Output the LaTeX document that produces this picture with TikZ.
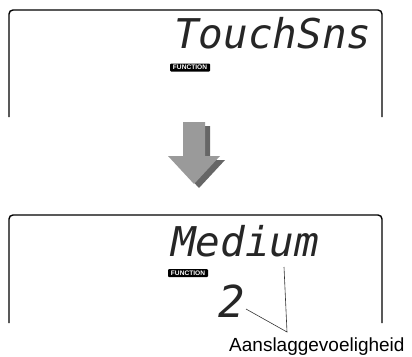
\documentclass[tikz,border=0pt]{standalone}
\usepackage{fontspec}
\setmainfont{Liberation Sans}
\newfontfamily\lcdfont{DejaVu Sans Mono}
\definecolor{arrowgray}{HTML}{9A9A9A}
\definecolor{shadowgray}{HTML}{666666}
\begin{document}
\begin{tikzpicture}[x=1pt,y=-1pt,
  screen/.style={line width=1.4pt,rounded corners=4pt},
  lcd/.style={inner sep=0pt,anchor=base west,text=black!85,font=\lcdfont\itshape\fontsize{41}{41}\selectfont},
  badge/.style={fill=black,text=white,rounded corners=1pt,inner sep=0pt,
    minimum width=40pt,minimum height=8pt,font=\bfseries\fontsize{6.6}{6.6}\selectfont},
  leader/.style={line width=0.6pt,black!80}]
\useasboundingbox (0,0) rectangle (412,356);
% upper screen
\draw[screen] (9,117) -- (9,10) -- (382,10) -- (382,117);
\node[lcd] (touch) at (174,48) {TouchSns};
\node[badge] (fnA) at (190,67.5) {FUNCTION};
% arrow with shadow
\fill[shadowgray] (188,126) -- (210,126) -- (210,160) -- (225,160) -- (199,188) -- (173,160) -- (188,160) -- cycle;
\fill[arrowgray] (183,122) -- (205,122) -- (205,156) -- (220,156) -- (194,184) -- (168,156) -- (183,156) -- cycle;
% lower screen
\draw[screen] (9,323) -- (9,215) -- (382,215) -- (382,323);
\node[lcd] (medium) at (171,256) {Medium};
\node[badge] (fnB) at (188,273) {FUNCTION};
\node[inner sep=0pt,text=black!85,font=\lcdfont\itshape\fontsize{44}{44}\selectfont] (digit) at (232,301) {2};
% leader lines
\node[anchor=base west,inner sep=0pt,font=\fontsize{19}{19}\selectfont] (sense) at (229,351) {Aanslaggevoeligheid};
\coordinate (meet) at (287,332);
\coordinate (digitend) at (246,309);
\coordinate (mediumend) at (284,267);
\draw[leader] (digitend) -- (meet) -- (mediumend);
\end{tikzpicture}
\end{document}
